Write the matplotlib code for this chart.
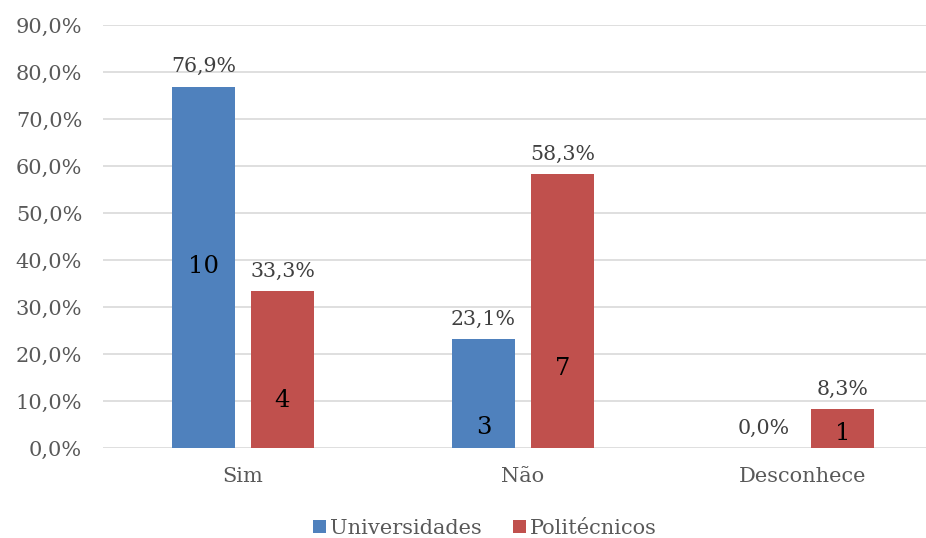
import numpy as np
import matplotlib.pyplot as plt
from matplotlib.ticker import FuncFormatter

categories = ["Sim", "Não", "Desconhece"]
univ_pct = [76.9, 23.1, 0.0]
poli_pct = [33.3, 58.3, 8.3]
univ_n = [10, 3, 0]
poli_n = [4, 7, 1]

# altura (em %) onde aparecem os números absolutos dentro das barras
univ_n_pos = [38.7, 4.3, None]
poli_n_pos = [10.2, 17.0, 3.0]

blue = "#4f81bd"
red = "#c0504d"
font = "DejaVu Serif"

plt.rcParams["font.family"] = font

fig = plt.figure(figsize=(9.26, 5.38), dpi=100)
ax = fig.add_axes([103 / 926, 90 / 538, 840 / 926, 423 / 538])

x = np.arange(len(categories))
w = 0.225
off = 0.141
ax.bar(x - off, univ_pct, w, color=blue, label="Universidades", zorder=3)
ax.bar(x + off, poli_pct, w, color=red, label="Politécnicos", zorder=3)

for i in range(len(categories)):
    for xi, v, n, p in [(x[i] - off, univ_pct[i], univ_n[i], univ_n_pos[i]),
                        (x[i] + off, poli_pct[i], poli_n[i], poli_n_pos[i])]:
        ax.text(xi, v + 2.2, f"{v:.1f}%".replace(".", ","), ha="center", va="bottom",
                fontsize=14.8, color="#404040")
        if p is not None:
            ax.text(xi, p, str(n), ha="center", va="center", fontsize=17.5, color="black", zorder=4)

ax.set_xlim(-0.5, 2.5)
ax.set_ylim(0, 90)
ax.set_yticks(np.arange(0, 91, 10))
ax.yaxis.set_major_formatter(FuncFormatter(lambda v, _: f"{v:.1f}%".replace(".", ",")))
ax.set_xticks(x)
ax.set_xticklabels(categories)
ax.tick_params(axis="both", length=0, labelsize=15, labelcolor="#595959")
ax.tick_params(axis="x", pad=14)
ax.tick_params(axis="y", pad=15)
ax.grid(axis="y", color="#d9d9d9", linewidth=1.2, zorder=0)
for s in ax.spines.values():
    s.set_visible(False)

leg = fig.legend(loc="center", bbox_to_anchor=(485 / 926, 1 - 528 / 538), ncol=2, frameon=False,
                 fontsize=15, handlelength=0.6, handleheight=0.6, handletextpad=0.2,
                 columnspacing=1.5)
for t in leg.get_texts():
    t.set_color("#595959")

fig.savefig("out.png", dpi=100)
